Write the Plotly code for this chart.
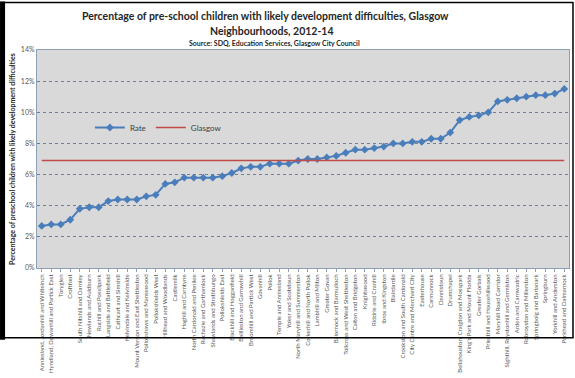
import plotly.graph_objects as go

neighbourhoods = [
    "Anniesland, Jordanhill and Whiteinch", "Hyndland, Dowanhill and Partick East", "Toryglen", "Croftfoot",
    "South Nitshill and Darnley", "Newlands and Auldburn", "Ruchill and Possilpark", "Langside and Battlefield",
    "Cathcart and Simshill", "Kelvindale and Kelvinside", "Mount Vernon and East Shettleston", "Pollokshaws and Mansewood",
    "Pollokshields West", "Hillhead and Woodlands", "Castlemilk", "Haghill and Carntyne",
    "North Cardonald and Penilee", "Ruchazie and Garthamlock", "Shawlands and Strathbungo", "Pollokshields East",
    "Blackhill and Hogganfield", "Baillieston and Garrowhill", "Broomhill and Partick West", "Govanhill",
    "Pollok", "Temple and Anniesland", "Yoker and Scotstoun", "North Maryhill and Summerston",
    "Corkerhill and North Pollok", "Lambhill and Milton", "Greater Govan", "Balornock and Barmulloch",
    "Tollcross and West Shettleston", "Calton and Bridgeton", "Knightswood", "Riddrie and Cranhill",
    "Ibrox and Kingston", "Blairdardie", "Crookston and South Cardonald", "City Centre and Merchant City",
    "Easterhouse", "Carmunnock", "Dennistoun", "Drumchapel",
    "Bellahouston, Craigton and Mosspark", "King's Park and Mount Florida", "Greater Gorbals", "Priesthill and Househillwood",
    "Maryhill Road Corridor", "Sighthill, Roystonhill and Germiston", "Arden and Carnwadric", "Robroyston and Millerston",
    "Springboig and Barlanark", "Springburn", "Yorkhill and Anderston", "Parkhead and Dalmarnock",
]

rate = [
    2.7, 2.8, 2.8, 3.1, 3.8, 3.9, 3.9, 4.3, 4.4, 4.4, 4.4, 4.6, 4.7, 5.4,
    5.5, 5.8, 5.8, 5.8, 5.8, 5.9, 6.1, 6.4, 6.5, 6.5, 6.7, 6.7, 6.7, 6.9,
    7.0, 7.0, 7.1, 7.2, 7.4, 7.6, 7.6, 7.7, 7.8, 8.0, 8.0, 8.1, 8.1, 8.3,
    8.3, 8.7, 9.5, 9.7, 9.8, 10.0, 10.7, 10.8, 10.9, 11.0, 11.1, 11.1, 11.2, 11.5,
]
rate = [v / 100 for v in rate]
glasgow_value = 0.069
glasgow = [glasgow_value] * len(neighbourhoods)

y_ticks = [0, 0.02, 0.04, 0.06, 0.08, 0.10, 0.12, 0.14]
y_tick_labels = ["0%", "2%", "4%", "6%", "8%", "10%", "12%", "14%"]

FONT = "Lato, 'Liberation Sans', sans-serif"

fig = go.Figure()
fig.add_trace(go.Scatter(
    x=neighbourhoods, y=rate, name="Rate", mode="lines+markers",
    line=dict(color="#4a7ebb", width=2),
    marker=dict(symbol="diamond", size=6, color="#4a7ebb"),
))
fig.add_trace(go.Scatter(
    x=neighbourhoods, y=glasgow, name="Glasgow", mode="lines",
    line=dict(color="#be4b48", width=1.5),
))

W, H = 575, 378
L, R, T, B = 37, 5, 50, 103
pw, ph = W - L - R, H - T - B

def px(x):
    return (x - L) / pw

def py(y):
    return (H - B - y) / ph

shapes = [
    dict(type="rect", xref="paper", yref="paper", x0=px(1), x1=px(574), y0=py(347), y1=py(1),
         line=dict(color="black", width=1.5), fillcolor="rgba(0,0,0,0)", layer="above"),
    dict(type="rect", xref="paper", yref="paper", x0=px(0), x1=px(5), y0=py(349), y1=py(0),
         line=dict(width=0), fillcolor="black", layer="above"),
]

annotations = [
    dict(text="<b>Percentage of pre-school children with likely development difficulties, Glasgow</b>",
         xref="paper", yref="paper", x=px(266), y=py(15), xanchor="center", yanchor="middle",
         showarrow=False, font=dict(size=10.5, color="#262626", family=FONT)),
    dict(text="<b>Neighbourhoods, 2012-14</b>",
         xref="paper", yref="paper", x=px(272), y=py(30), xanchor="center", yanchor="middle",
         showarrow=False, font=dict(size=10.5, color="#262626", family=FONT)),
    dict(text="<b>Source: SDQ, Education Services, Glasgow City Council</b>",
         xref="paper", yref="paper", x=px(275), y=py(43), xanchor="center", yanchor="middle",
         showarrow=False, font=dict(size=7, color="#262626", family=FONT)),
]

fig.update_layout(
    width=W, height=H,
    margin=dict(l=L, r=R, t=T, b=B),
    paper_bgcolor="white",
    plot_bgcolor="#d9d9d9",
    font=dict(family=FONT, color="#404040"),
    annotations=annotations,
    legend=dict(
        x=px(90), y=py(130), xanchor="left", yanchor="middle", orientation="h",
        bgcolor="rgba(0,0,0,0)", font=dict(size=8, color="#404040"),
        itemwidth=30, tracegroupgap=0,
    ),
    shapes=shapes,
    showlegend=True,
)

fig.update_xaxes(
    tickangle=-90, tickfont=dict(size=6, color="#595959"),
    showgrid=False, showline=True, linecolor="#8ea0b8", mirror=True,
    ticks="outside", ticklen=3, tickcolor="#8ea0b8",
    range=[-0.5, len(neighbourhoods) - 0.5],
)
fig.update_yaxes(
    range=[0, 0.14], tickvals=y_ticks, ticktext=y_tick_labels,
    tickfont=dict(size=7, color="#595959"),
    showgrid=True, gridcolor="#6f7f99", griddash="dot", gridwidth=1,
    showline=True, linecolor="#8ea0b8", mirror=True, zeroline=False,
    title=dict(text="<b>Percentage of preschool children with likely development difficulties</b>",
               font=dict(size=7, color="#262626"), standoff=4),
)

fig.write_html("out.html")
